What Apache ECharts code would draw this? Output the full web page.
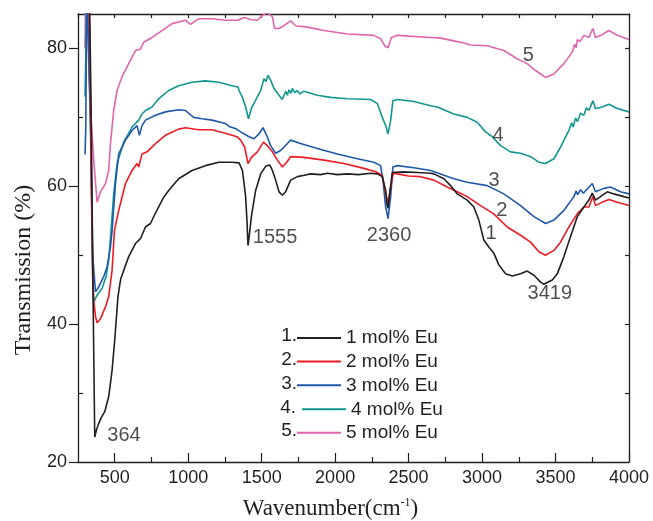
<!DOCTYPE html>
<html>
<head>
<meta charset="utf-8">
<script src="https://cdn.jsdelivr.net/npm/echarts@6/dist/echarts.min.js"></script>
<style>
  html, body { margin: 0; padding: 0; background: #ffffff; }
  #chart { width: 653px; height: 521px; }
</style>
</head>
<body>
<div id="chart"></div>
<script>
// FTIR transmission spectra of the Eu-doped samples (wavenumber in cm^-1, transmission in %)
const wn1 = [318, 330, 340, 352, 364, 375, 391, 410, 432, 459, 482, 500, 522, 540, 561, 595, 641, 675, 709, 743, 770, 799, 830, 867, 935, 1026, 1117, 1208, 1298, 1346, 1369, 1391, 1400, 1407, 1414, 1430, 1459, 1493, 1527, 1555, 1573, 1595, 1618, 1641, 1663, 1697, 1743, 1790, 1833, 1900, 1947, 2015, 2083, 2160, 2242, 2287, 2321, 2344, 2352, 2360, 2372, 2389, 2468, 2559, 2650, 2672, 2740, 2786, 2831, 2899, 2944, 2978, 3012, 3046, 3080, 3114, 3160, 3206, 3262, 3307, 3353, 3398, 3419, 3478, 3512, 3557, 3602, 3648, 3693, 3727, 3750, 3772, 3806, 3852, 3897, 3965, 4000];
const t1 = [90, 85, 70, 45, 23.6, 24.6, 25.6, 26.5, 27.3, 29.5, 33.3, 37.7, 44, 46.5, 47.8, 49.8, 51.7, 52.4, 54.1, 54.6, 55.8, 57, 58.3, 59.4, 61.1, 62.3, 63.0, 63.5, 63.5, 63.4, 62.3, 58.5, 55, 51.4, 52.5, 55.6, 59.4, 61.8, 62.9, 63.1, 62.3, 60.9, 59.2, 58.7, 59.2, 60.9, 61.4, 61.6, 61.8, 61.7, 61.9, 61.7, 61.8, 61.7, 61.9, 61.8, 61.4, 59.4, 57.5, 56.8, 59, 62.0, 62.1, 62.0, 61.9, 61.8, 61.1, 60.1, 58.9, 58.0, 57.0, 55.1, 52.2, 51.2, 50.3, 48.6, 47.3, 47.0, 47.3, 47.7, 47.1, 46.1, 45.8, 46.4, 47.3, 49.8, 52.7, 55.6, 57.0, 58.0, 59.0, 58.0, 58.5, 59.2, 58.9, 58.5, 58.3];

const wn2 = [318, 330, 340, 350, 357, 370, 380, 403, 437, 459, 482, 498, 527, 573, 618, 652, 663, 686, 720, 777, 845, 935, 981, 1071, 1162, 1253, 1332, 1357, 1384, 1407, 1430, 1471, 1512, 1539, 1573, 1607, 1641, 1670, 1697, 1788, 1924, 2060, 2196, 2276, 2321, 2344, 2360, 2378, 2393, 2400, 2423, 2500, 2582, 2672, 2763, 2831, 2899, 2990, 3080, 3171, 3262, 3330, 3387, 3432, 3489, 3534, 3591, 3648, 3693, 3727, 3754, 3772, 3818, 3863, 3920, 4000];
const t2 = [90, 82, 62, 47, 43.5, 41, 40.2, 40.8, 42.5, 44.0, 47.8, 53.6, 56.5, 60.4, 62.3, 63.3, 62.8, 64.7, 65.0, 66.2, 67.4, 68.3, 68.5, 68.2, 68.2, 67.7, 67.2, 66.7, 65.7, 63.3, 64.2, 65.0, 66.4, 65.9, 65.0, 63.8, 62.8, 63.5, 64.3, 64.2, 63.8, 63.3, 62.6, 62.1, 61.6, 58.9, 57.7, 59.9, 61.6, 61.9, 61.8, 61.5, 61.4, 60.9, 59.9, 59.2, 58.5, 57.2, 56.0, 54.1, 52.9, 51.9, 50.5, 50.0, 50.7, 51.9, 54.1, 56.0, 57.0, 57.0, 58.5, 57.2, 57.7, 58.1, 57.7, 57.2];

const wn3 = [298, 303, 310, 322, 335, 350, 369, 391, 425, 448, 471, 482, 505, 527, 573, 618, 652, 668, 686, 709, 777, 845, 935, 981, 1037, 1094, 1162, 1253, 1287, 1321, 1357, 1414, 1448, 1482, 1509, 1534, 1561, 1595, 1629, 1675, 1697, 1765, 1879, 2015, 2151, 2264, 2310, 2328, 2344, 2360, 2378, 2393, 2423, 2536, 2650, 2718, 2808, 2899, 3035, 3148, 3262, 3353, 3432, 3489, 3557, 3625, 3640, 3650, 3670, 3690, 3716, 3750, 3772, 3829, 3874, 3942, 4000];
const t3 = [64.6, 68.6, 90, 90, 70, 50, 44.7, 45.4, 46.9, 48.3, 51.2, 53.6, 60.4, 64.7, 66.7, 68.1, 68.8, 67.4, 68.8, 69.6, 70.3, 70.8, 71.1, 71.0, 70.0, 69.8, 69.6, 69.1, 68.6, 68.4, 67.9, 67.2, 66.9, 67.6, 68.5, 67.4, 65.9, 64.8, 65.2, 66.2, 66.7, 66.2, 65.5, 64.7, 64.0, 63.5, 63.0, 60.4, 57.0, 55.3, 58.5, 62.8, 63.0, 62.7, 62.3, 61.8, 61.1, 60.6, 60.1, 58.9, 57.2, 55.6, 54.6, 55.1, 56.5, 58.5, 59.3, 58.8, 59.5, 59.0, 59.6, 60.4, 59.2, 59.7, 59.9, 59.2, 58.9];

const wn4 = [298, 304, 310, 322, 335, 350, 357, 380, 414, 441, 459, 475, 493, 516, 561, 618, 663, 686, 709, 754, 799, 867, 935, 1026, 1117, 1208, 1298, 1339, 1346, 1369, 1391, 1410, 1430, 1459, 1493, 1516, 1530, 1543, 1561, 1584, 1618, 1640, 1652, 1664, 1675, 1686, 1700, 1709, 1725, 1743, 1760, 1788, 1879, 1969, 2083, 2242, 2287, 2321, 2344, 2360, 2378, 2393, 2423, 2536, 2650, 2695, 2808, 2899, 2967, 3024, 3069, 3126, 3194, 3262, 3330, 3387, 3432, 3489, 3534, 3591, 3610, 3620, 3636, 3650, 3670, 3693, 3710, 3727, 3754, 3772, 3818, 3863, 3920, 4000];
const t4 = [73, 80, 90, 90, 68, 47, 43.2, 44.2, 45.2, 46.9, 49.3, 53.6, 58.9, 63.3, 66.4, 68.6, 69.6, 70.5, 71.0, 71.5, 72.7, 73.9, 74.6, 75.1, 75.3, 75.1, 74.6, 74.4, 73.9, 72.9, 71.5, 69.8, 71.3, 72.5, 73.9, 75.6, 75.2, 76.1, 75.4, 74.2, 73.2, 72.6, 72.8, 73.8, 73.2, 74.0, 73.5, 74.2, 73.6, 73.9, 73.4, 73.8, 73.2, 72.9, 72.7, 72.6, 72.0, 70.0, 68.8, 67.6, 69.6, 72.4, 72.6, 72.3, 71.7, 71.5, 70.5, 70.0, 69.3, 67.9, 67.2, 65.9, 65.0, 64.8, 64.3, 63.5, 63.3, 64.0, 65.7, 68.1, 69.2, 68.6, 69.9, 69.4, 70.6, 70.3, 71.4, 71.0, 72.4, 71.3, 71.5, 71.9, 71.3, 70.8];

const wn5 = [297, 300, 305, 312, 318, 323, 335, 357, 380, 403, 437, 459, 471, 493, 516, 550, 595, 641, 675, 697, 754, 822, 890, 981, 1015, 1071, 1162, 1253, 1339, 1380, 1425, 1471, 1505, 1539, 1573, 1588, 1618, 1652, 1697, 1731, 1811, 1924, 2083, 2264, 2310, 2337, 2360, 2383, 2423, 2650, 2718, 2808, 2876, 2922, 3035, 3148, 3239, 3307, 3364, 3432, 3489, 3557, 3614, 3630, 3640, 3648, 3665, 3693, 3727, 3754, 3772, 3818, 3863, 3920, 4000];
const t5 = [80, 84, 90, 90, 84, 78, 71, 63.8, 57.7, 59.2, 60.4, 62.3, 66.2, 71.0, 73.9, 75.9, 77.8, 79.7, 79.9, 80.9, 81.6, 82.6, 83.6, 84.1, 83.5, 84.3, 84.3, 84.1, 84.1, 84.5, 84.2, 84.1, 84.8, 85.2, 84.6, 82.9, 82.9, 83.3, 84.0, 83.3, 83.1, 82.6, 82.1, 81.9, 81.4, 80.4, 80.1, 81.6, 81.9, 81.6, 81.5, 81.1, 80.8, 80.5, 80.4, 79.7, 78.5, 77.8, 76.8, 75.8, 76.3, 77.8, 79.5, 80.6, 80.1, 81.3, 81.0, 81.9, 81.6, 82.9, 81.6, 82.0, 82.6, 81.9, 81.3];

const seriesNames = ['1 mol% Eu', '2 mol% Eu', '3 mol% Eu', '4 mol% Eu', '5 mol% Eu'];
const legendPrefixes = ['1.', '2.', '3.', '4.', '5.'];
const seriesColors = ['#231f20', '#ed1c24', '#1f58a8', '#12968f', '#e065ad'];

const xMajorTicks = [500, 1000, 1500, 2000, 2500, 3000, 3500, 4000];
const xMinorTicks = [750, 1250, 1750, 2250, 2750, 3250, 3750];
const yMajorTicks = [20, 40, 60, 80];
const yMinorTicks = [30, 50, 70];

// text annotations: [wavenumber, transmission, text]
const peakNotes = [
  [563, 23.8, '364'],
  [1591, 52.6, '1555'],
  [2367, 52.9, '2360'],
  [3461, 44.4, '3419']
];
const curveNotes = [
  [3061, 53.2, '1'],
  [3134, 56.5, '2'],
  [3082, 60.9, '3'],
  [3109, 67.4, '4'],
  [3315, 79.0, '5']
];

const wnList = [wn1, wn2, wn3, wn4, wn5];
const tList = [t1, t2, t3, t4, t5];

const INK = '#231f20';
const SANS = '"Liberation Sans", Arial, sans-serif';
const SERIF = '"Liberation Serif", "Times New Roman", serif';

const chart = echarts.init(document.getElementById('chart'), null, { renderer: 'canvas' });

const lineSeries = seriesNames.map((name, i) => ({
  name: name,
  type: 'line',
  xAxisIndex: 0,
  yAxisIndex: 0,
  data: wnList[i].map((x, k) => [x, tList[i][k]]),
  showSymbol: false,
  symbol: 'none',
  smooth: false,
  clip: true,
  z: 10 - i,
  lineStyle: { color: seriesColors[i], width: 1.6 },
  itemStyle: { color: seriesColors[i] },
  emphasis: { disabled: true }
}));

const noteSeries = (notes) => ({
  type: 'scatter',
  xAxisIndex: 0,
  yAxisIndex: 0,
  data: notes,
  symbolSize: 0,
  silent: true,
  z: 20,
  label: {
    show: true,
    position: 'inside',
    formatter: (p) => p.data[2],
    fontSize: 20,
    fontFamily: SANS,
    color: INK
  }
});

const rowCenters = [336, 359.6, 383.3, 407.3, 430.7];
const rowLefts = [297, 297, 297, 302, 297];

chart.setOption({
  animation: false,
  backgroundColor: '#ffffff',
  grid: {
    left: 78, right: 24, top: 14, bottom: 59,
    containLabel: false,
    outerBoundsMode: 'none'
  },
  xAxis: [
    {
      type: 'value', position: 'bottom', min: 250, max: 4000, interval: 250,
      axisLine: { show: true, onZero: false, lineStyle: { color: INK, width: 1.3 } },
      axisTick: { show: true, inside: true, length: 9, customValues: xMajorTicks, lineStyle: { color: INK, width: 1.2 } },
      axisLabel: { show: true, customValues: xMajorTicks, formatter: (v) => String(v), margin: 7, fontSize: 18, fontFamily: SANS, color: INK },
      splitLine: { show: false },
      name: '{t|Wavenumber(cm}{s|-1}{t|)}',
      nameLocation: 'middle',
      nameGap: 35,
      nameTextStyle: {
        padding: [0, 46, 0, 0],
        rich: {
          t: { fontSize: 23, fontFamily: SERIF, color: INK },
          s: { fontSize: 12, fontFamily: SERIF, color: INK, verticalAlign: 'top', padding: [0, 0, 10, 0] }
        }
      }
    },
    {
      type: 'value', position: 'bottom', min: 250, max: 4000, interval: 250,
      axisLine: { show: false, onZero: false },
      axisTick: { show: true, inside: true, length: 5, customValues: xMinorTicks, lineStyle: { color: INK, width: 1.2 } },
      axisLabel: { show: false },
      splitLine: { show: false }
    },
    {
      type: 'value', position: 'top', min: 250, max: 4000, interval: 250,
      axisLine: { show: true, onZero: false, lineStyle: { color: INK, width: 1.3 } },
      axisTick: { show: true, inside: true, length: 4, lineStyle: { color: INK, width: 1.2 } },
      axisLabel: { show: false },
      splitLine: { show: false }
    }
  ],
  yAxis: [
    {
      type: 'value', position: 'left', min: 20, max: 85, interval: 10,
      axisLine: { show: true, onZero: false, lineStyle: { color: INK, width: 1.3 } },
      axisTick: { show: true, inside: false, length: 9, customValues: yMajorTicks, lineStyle: { color: INK, width: 1.2 } },
      axisLabel: { show: true, customValues: yMajorTicks, margin: 11, fontSize: 18, fontFamily: SANS, color: INK },
      splitLine: { show: false },
      name: 'Transmission (%)',
      nameLocation: 'middle',
      nameGap: 40,
      nameTextStyle: { fontSize: 24, fontFamily: SERIF, color: INK, padding: [0, 64, 0, 0] }
    },
    {
      type: 'value', position: 'left', min: 20, max: 85, interval: 10,
      axisLine: { show: false, onZero: false },
      axisTick: { show: true, inside: true, length: 5, customValues: yMinorTicks, lineStyle: { color: INK, width: 1.2 } },
      axisLabel: { show: false },
      splitLine: { show: false }
    },
    {
      type: 'value', position: 'right', min: 20, max: 85, interval: 10,
      axisLine: { show: true, onZero: false, lineStyle: { color: INK, width: 1.3 } },
      axisTick: { show: true, inside: true, length: 4, customValues: [30, 40, 50, 60, 70, 80], lineStyle: { color: INK, width: 1.2 } },
      axisLabel: { show: false },
      splitLine: { show: false }
    }
  ],
  legend: seriesNames.map((name, i) => ({
    data: [name],
    orient: 'horizontal',
    left: rowLefts[i],
    top: rowCenters[i] - 8,
    padding: 0,
    icon: 'rect',
    itemWidth: 44,
    itemHeight: 2,
    selectedMode: false,
    textStyle: { fontSize: 19, lineHeight: 20, fontFamily: SANS, color: INK }
  })),
  graphic: legendPrefixes.map((txt, i) => ({
    type: 'text',
    x: rowLefts[i] - (i === 3 ? 6 : 0),
    y: rowCenters[i],
    silent: true,
    style: {
      text: txt,
      fill: INK,
      font: '19px ' + SANS,
      align: 'right',
      verticalAlign: 'middle'
    }
  })),
  series: lineSeries.concat([noteSeries(peakNotes), noteSeries(curveNotes)])
});
</script>
</body>
</html>
